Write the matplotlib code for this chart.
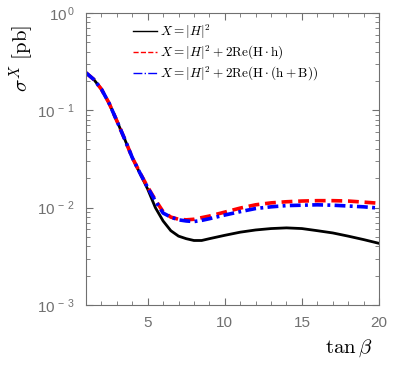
import matplotlib
matplotlib.use("Agg")
import matplotlib.pyplot as plt
from matplotlib.lines import Line2D
from matplotlib.ticker import FuncFormatter, LogLocator, MultipleLocator
import numpy as np

plt.rcParams['mathtext.fontset'] = 'cm'

# tan(beta) grid and cross sections [pb]
tanb = [1, 1.5, 2, 2.5, 3, 3.5, 4, 4.5, 5, 5.5, 6, 6.5, 7, 7.5, 8, 8.5, 9,
        10, 11, 12, 13, 14, 15, 16, 17, 18, 19, 20]
sig_H2 = [0.243, 0.208, 0.165, 0.118, 0.078, 0.051, 0.0326, 0.0225, 0.0155, 0.0100,
          0.0073, 0.0058, 0.0051, 0.0048, 0.0046, 0.0046, 0.0048,
          0.0052, 0.0056, 0.0059, 0.0061, 0.0062, 0.0061, 0.0058, 0.0055, 0.0051, 0.0047, 0.0043]
sig_Hh = [0.243, 0.208, 0.165, 0.118, 0.078, 0.051, 0.0327, 0.0228, 0.0163, 0.0120,
          0.0091, 0.0080, 0.0076, 0.0075, 0.0076, 0.0079, 0.0082,
          0.0090, 0.0099, 0.0107, 0.0112, 0.0115, 0.0117, 0.0118, 0.0118, 0.0117, 0.0114, 0.0111]
sig_HhB = [0.243, 0.208, 0.165, 0.118, 0.078, 0.051, 0.0327, 0.0227, 0.0161, 0.0117,
           0.0088, 0.0080, 0.0075, 0.0073, 0.0072, 0.0074, 0.0077,
           0.0084, 0.0091, 0.0098, 0.0102, 0.0105, 0.0106, 0.0107, 0.0106, 0.0104, 0.0102, 0.0099]
labels = [r'$X=|H|^2$',
          r'$X=|H|^2+2\mathrm{Re}(\mathrm{H}\cdot\mathrm{h})$',
          r'$X=|H|^2+2\mathrm{Re}(\mathrm{H}\cdot(\mathrm{h}+\mathrm{B}))$']

gray = '#707070'
fig = plt.figure(figsize=(3.97, 3.71), dpi=100)
ax = fig.add_axes([86/397, 1-305/371, (379-86)/397, (305-13)/371])

ax.plot(tanb, sig_H2, color='k', lw=2.0)
ax.plot(tanb, sig_Hh, color='r', lw=2.6, ls=(0, (3, 1.6)))
ax.plot(tanb, sig_HhB, color='b', lw=2.6, ls=(0, (3, 1.2, 0.8, 1.2)))

ax.set_yscale('log')
ax.set_xlim(1, 20)
ax.set_ylim(1e-3, 1)
ax.set_xticks([5, 10, 15, 20])
ax.xaxis.set_minor_locator(MultipleLocator(1))
ax.yaxis.set_major_locator(LogLocator(base=10))
ax.yaxis.set_minor_locator(LogLocator(base=10, subs=np.arange(2, 10)))
ax.yaxis.set_major_formatter(FuncFormatter(
    lambda v, p: r'$\mathregular{10^{\,%s}}$' % (r'-\,%d' % -round(np.log10(v)) if v < 1 else '0')))

for s in ax.spines.values():
    s.set_color(gray)
ax.tick_params(which='both', direction='in', top=True, right=True, colors=gray,
               labelcolor=gray)
ax.tick_params(which='major', length=5, width=0.8, labelsize=11, pad=8)
ax.tick_params(which='minor', length=3, width=0.6)
for t in ax.get_xticklabels() + ax.get_yticklabels():
    t.set_fontfamily('Liberation Sans')

fig.text(22/397, 1-58/371, r'$\sigma^X\ [\mathrm{pb}]$', rotation=90,
         ha='center', va='center', fontsize=15)
fig.text(372/397, 1-348/371, r'$\tan\beta$', ha='right', va='center', fontsize=15)

handles = [Line2D([], [], color='k', lw=1.0),
           Line2D([], [], color='r', lw=1.0, ls='--'),
           Line2D([], [], color='b', lw=1.0, ls='-.')]
ax.legend(handles, labels, loc='upper left', bbox_to_anchor=(0.13, 1.0),
          frameon=False, fontsize=9.5, handlelength=1.8, handletextpad=0.2,
          labelspacing=0.25, borderaxespad=0.3)

fig.savefig('out.png', dpi=100)
